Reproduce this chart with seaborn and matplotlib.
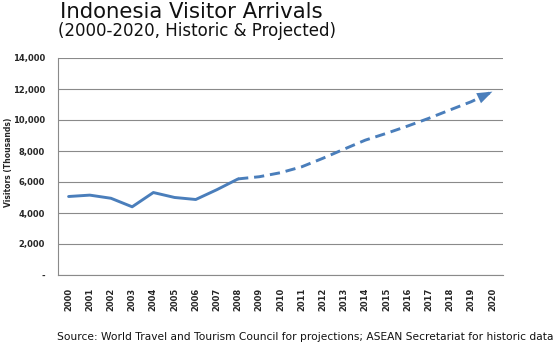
import matplotlib
matplotlib.use("Agg")
import matplotlib.pyplot as plt
from matplotlib.ticker import FixedLocator, FuncFormatter
import seaborn as sns
import pandas as pd

years = list(range(2000, 2021))
historic_years = years[:9]
historic_values = [5064, 5153, 4950, 4400, 5321, 5002, 4871, 5506, 6200]
projected_years = years[8:]
projected_values = [6200, 6340, 6600, 6980, 7530, 8120, 8700, 9140, 9610, 10110, 10650, 11180, 11830]
y_ticks = [0, 2000, 4000, 6000, 8000, 10000, 12000, 14000]

title = "Indonesia Visitor Arrivals"
subtitle = "(2000-2020, Historic & Projected)"
ylabel = "Visitors (Thousands)"
source = "Source: World Travel and Tourism Council for projections; ASEAN Secretariat for historic data"

sns.set_style("white")
plt.rcParams["font.family"] = ["DejaVu Sans"]

line_color = "#4A7EBB"
grid_color = "#8a8a8a"

fig = plt.figure(figsize=(5.58, 3.45), dpi=100)
ax = fig.add_axes([58 / 558, 70 / 345, 445 / 558, 217 / 345])

hist = pd.DataFrame({"year": historic_years, "visitors": historic_values})
proj = pd.DataFrame({"year": projected_years, "visitors": projected_values})

sns.lineplot(data=hist, x="year", y="visitors", ax=ax, color=line_color, lw=2.1,
             solid_capstyle="round", solid_joinstyle="round")
sns.lineplot(data=proj, x="year", y="visitors", ax=ax, color=line_color, lw=2.1,
             dashes=False)
ax.lines[-1].set_dashes([3.5, 2.0])

# arrowhead at the final projected point
x_end, y_end = projected_years[-1], projected_values[-1]
x_prev, y_prev = projected_years[-2], projected_values[-2]
f = 0.7
ax.annotate("", xy=(x_end, y_end),
            xytext=(x_end - f * (x_end - x_prev), y_end - f * (y_end - y_prev)),
            arrowprops=dict(arrowstyle="-|>,head_length=0.55,head_width=0.2",
                            color=line_color, lw=0,
                            mutation_scale=20, shrinkA=0, shrinkB=0))

ax.set_xlim(years[0] - 0.5, years[-1] + 0.5)
ax.set_ylim(0, 14000)
ax.set_xticks(years)
ax.set_xticklabels([str(y) for y in years], rotation=90, fontsize=6, fontweight="bold")
ax.xaxis.set_minor_locator(FixedLocator([y - 0.5 for y in years] + [years[-1] + 0.5]))
ax.tick_params(axis="x", which="major", length=0, pad=9)
ax.tick_params(axis="x", which="minor", length=4, width=0.8, color=grid_color, direction="out")

ax.set_yticks(y_ticks)
ax.yaxis.set_major_formatter(FuncFormatter(lambda v, p: "-" if v == 0 else f"{int(v):,}"))
ax.tick_params(axis="y", which="major", length=4, width=0.8, color=grid_color,
               direction="out", labelsize=6, pad=5.5)
for lab in ax.get_yticklabels():
    lab.set_fontweight("bold")

ax.grid(axis="y", color=grid_color, lw=0.8)
ax.grid(axis="x", visible=False)
for s in ["top", "right"]:
    ax.spines[s].set_visible(False)
for s in ["left", "bottom"]:
    ax.spines[s].set_color(grid_color)
    ax.spines[s].set_linewidth(0.8)

ax.set_xlabel("")
ax.set_ylabel(ylabel, fontsize=5.5, fontweight="bold")
ax.yaxis.set_label_coords((13 - 58) / 445, (275 - 162) / 217)

fig.text(60 / 558, 1 - 17.5 / 345, title, fontsize=15.3, va="baseline", ha="left", color="#111111")
fig.text(58 / 558, 1 - 36 / 345, subtitle, fontsize=12, va="baseline", ha="left", color="#111111")
fig.text(57 / 558, 1 - 340 / 345, source, fontsize=7.65, va="baseline", ha="left", color="#111111")

fig.savefig("out.png", dpi=100)
